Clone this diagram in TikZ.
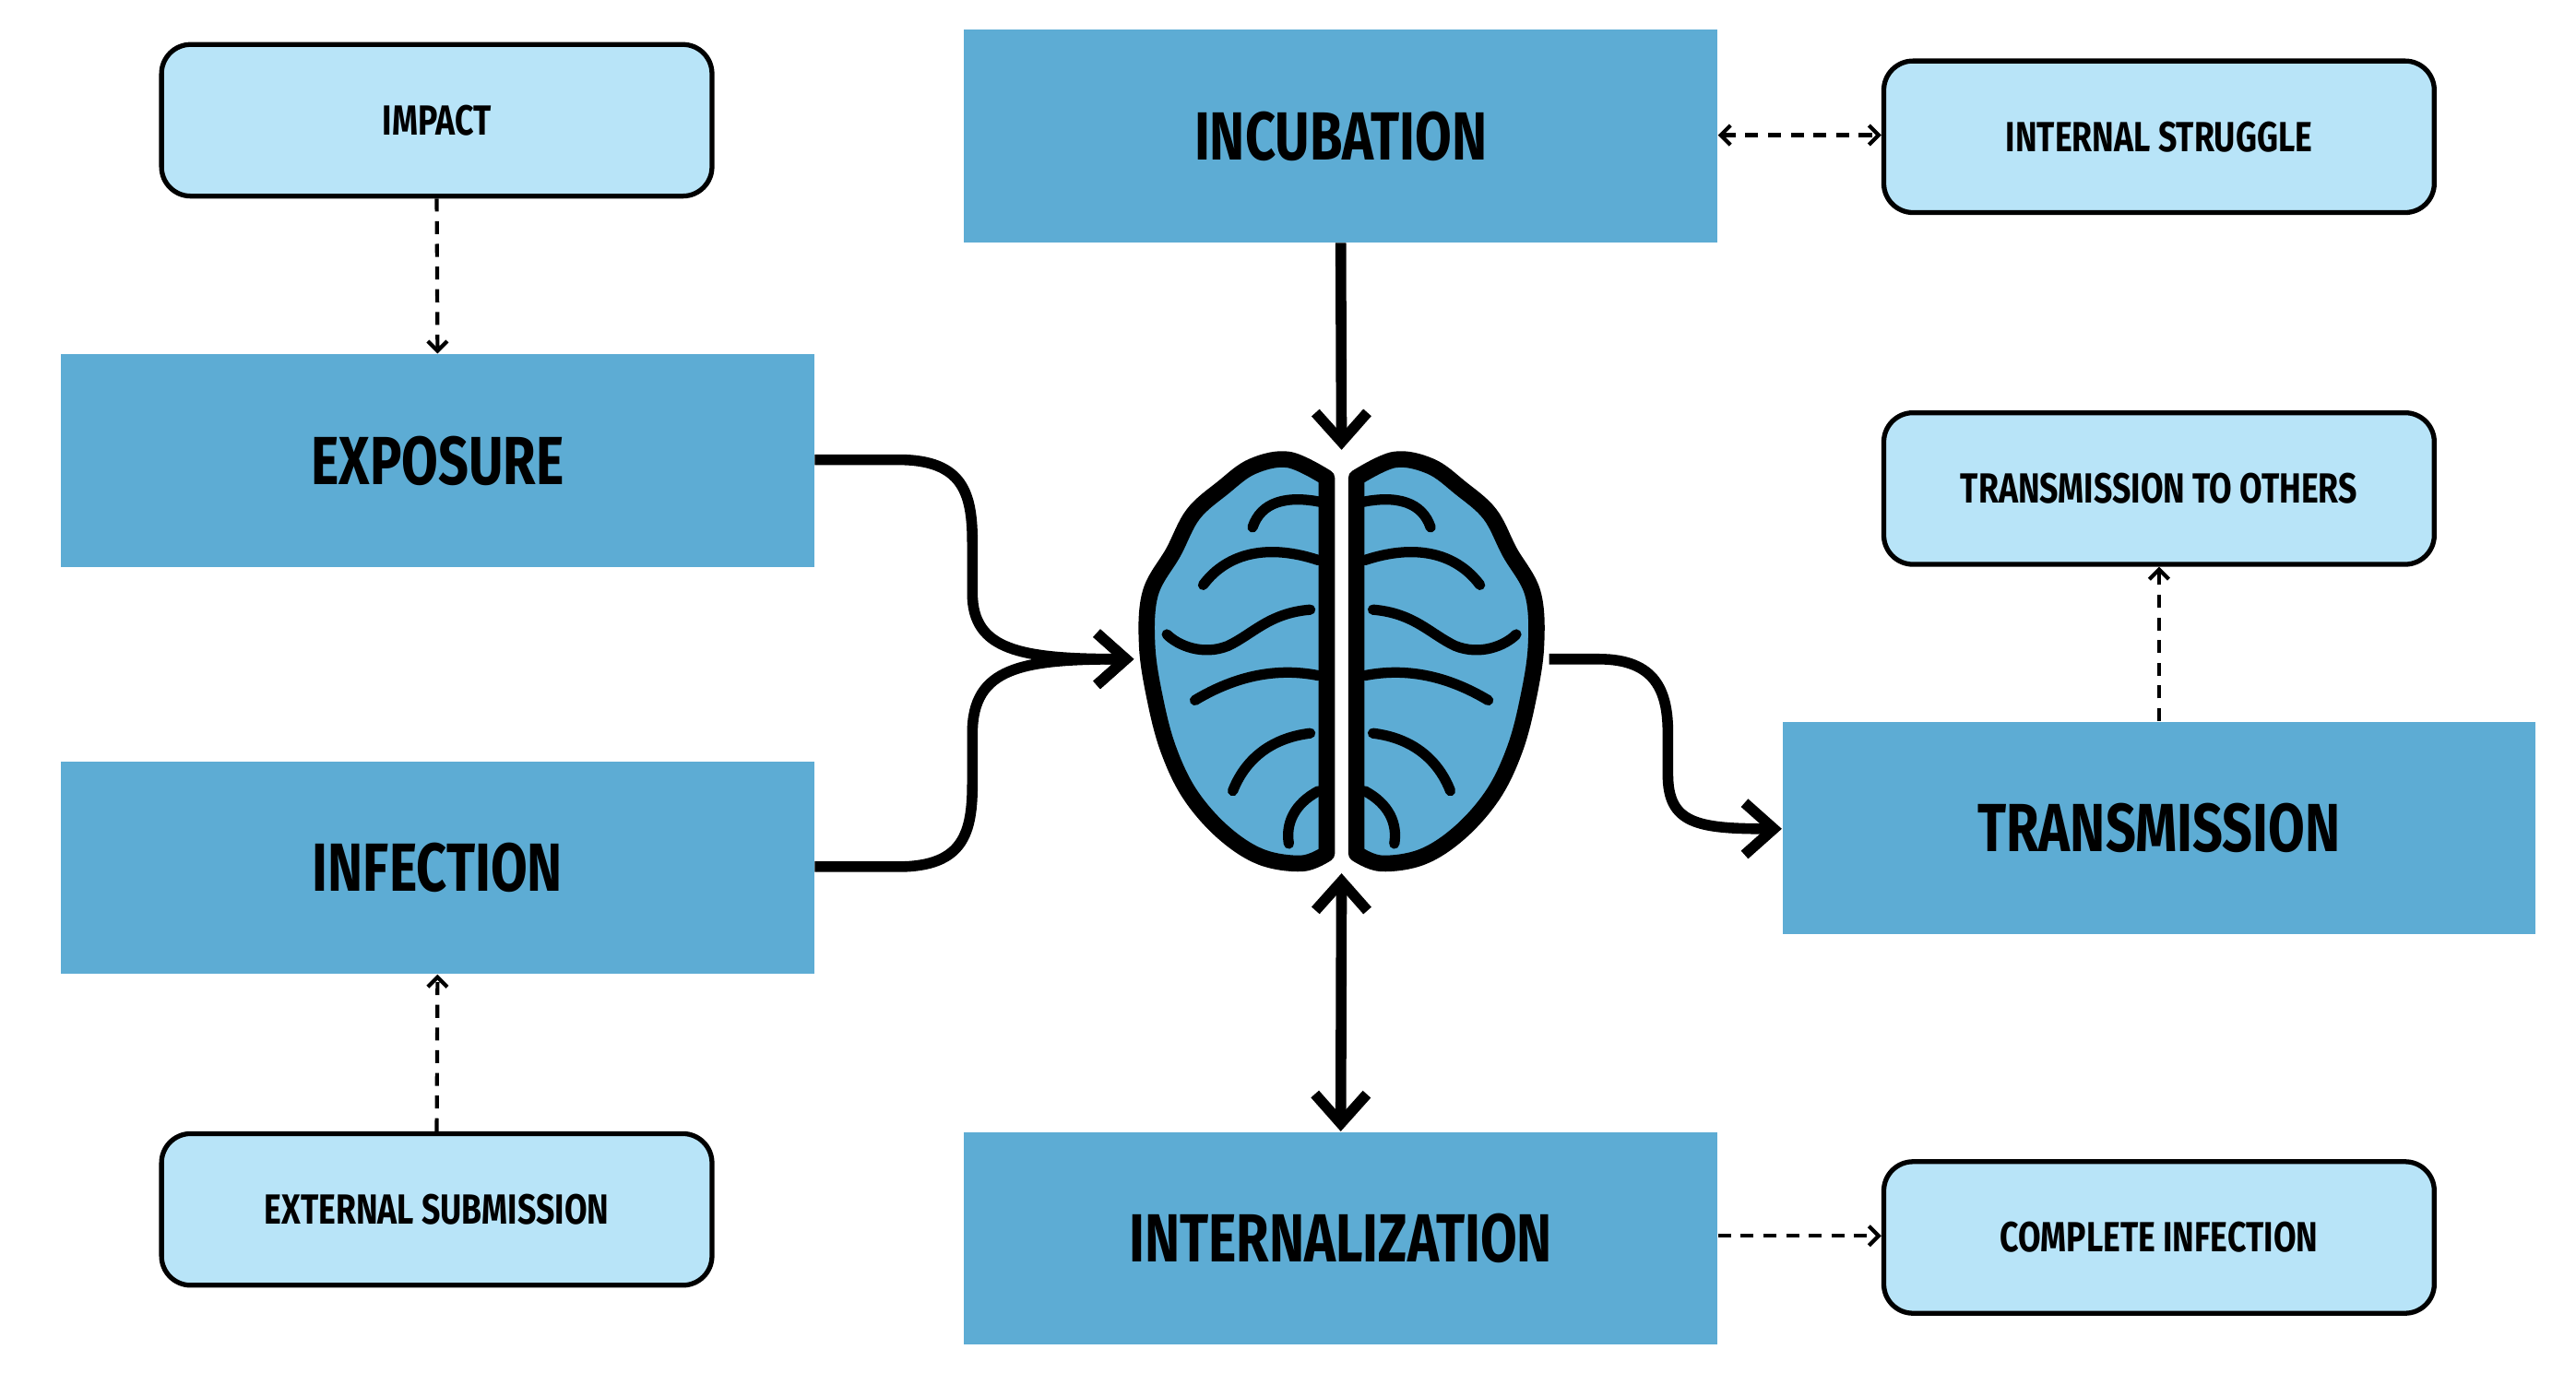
\documentclass[tikz,border=0pt]{standalone}
\usepackage{fontspec}
\setmainfont{Fira Sans}[FakeStretch=0.78]
\usetikzlibrary{arrows.meta}
\definecolor{dark}{HTML}{5DACD4}
\definecolor{light}{HTML}{B8E4F8}
\newcommand{\myhalf}{%
  \draw[line width=5pt,fill=dark,line join=round] plot[smooth,tension=0.6] coordinates {(805,290)(782,279)(760,283)(742,296)(724,312)(712,335)(698,360)(696,392)(701,425)(709,455)(722,482)(742,505)(765,520)(790,524)(805,518)} -- cycle;
  \begin{scope}[line width=3.2pt,line cap=round]
  \draw (803,305) .. controls (780,300) and (765,305) .. (760,320);
  \draw (800,340) .. controls (770,330) and (745,335) .. (730,355);
  \draw (795,370) .. controls (770,372) and (760,385) .. (745,392) .. controls (730,398) and (715,392) .. (708,385);
  \draw (800,410) .. controls (775,405) and (750,410) .. (725,425);
  \draw (795,445) .. controls (770,448) and (755,462) .. (748,480);
  \draw (800,480) .. controls (785,488) and (780,500) .. (782,512);
  \end{scope}}
\tikzset{
  x=0.01787cm,y=-0.01787cm,
  big/.style={fill=dark,draw=none,minimum width=457*0.01787cm,minimum height=129*0.01787cm,font=\fontsize{21}{24}\selectfont\bfseries,inner sep=0},
  small/.style={fill=light,draw=black,line width=1.5pt,rounded corners=9pt,minimum width=334*0.01787cm,minimum height=92*0.01787cm,font=\fontsize{13}{16}\selectfont\bfseries,inner sep=0},
  thick arrow/.style={line width=3.3pt,-{Straight Barb[length=9pt,width=16pt,line width=3.3pt]}},
  dash arrow/.style={line width=1.2pt,dashed,dash pattern=on 4pt off 3pt,-{Straight Barb[length=3pt,width=6pt]}}
}
\begin{document}
\begin{tikzpicture}
\useasboundingbox (0,0) rectangle (1563,833);
\node[small] (impact) at (265,73) {IMPACT};
\node[big] (incub) at (813.5,82.5) {INCUBATION};
\node[small] (struggle) at (1310,83) {INTERNAL STRUGGLE};
\node[big] (expo) at (265.5,279.5) {EXPOSURE};
\node[small] (others) at (1310,296.5) {TRANSMISSION TO OTHERS};
\node[big] (infec) at (265.5,526.5) {INFECTION};
\node[big] (trans) at (1310,502.5) {TRANSMISSION};
\node[small] (ext) at (265,734) {EXTERNAL SUBMISSION};
\node[big] (intern) at (813.5,751.5) {INTERNALIZATION};
\node[small] (complete) at (1310,751) {COMPLETE INFECTION};
\myhalf
\begin{scope}[xshift=1628*0.01787cm,xscale=-1]\myhalf\end{scope}
\coordinate (bl) at (688,400);
\coordinate (bt) at (814,273);
\coordinate (bb) at (814,530);
\coordinate (br) at (940,400);
\draw[thick arrow] (expo.east|-0,279) -- (545,279) .. controls (585,279) and (590,300) .. (590,330) -- (590,360) .. controls (590,395) and (620,400) .. (bl);
\draw[thick arrow] (infec.east|-0,526) -- (545,526) .. controls (585,526) and (590,505) .. (590,475) -- (590,445) .. controls (590,405) and (620,400) .. (bl);
\draw[thick arrow] (incub.south) -- (bt);
\draw[thick arrow,{Straight Barb[length=9pt,width=16pt,line width=3.3pt]}-{Straight Barb[length=9pt,width=16pt,line width=3.3pt]}] (bb) -- (intern.north);
\draw[thick arrow] (br) -- (970,400) .. controls (1005,400) and (1012,420) .. (1012,445) -- (1012,470) .. controls (1012,500) and (1030,503) .. (trans.west|-0,503);
\draw[dash arrow] (impact.south) -- (expo.north);
\draw[dash arrow] (ext.north) -- (infec.south);
\draw[dash arrow,{Straight Barb[length=3pt,width=6pt]}-{Straight Barb[length=3pt,width=6pt]}] (incub.east|-0,82) -- (struggle.west|-0,82);
\draw[dash arrow] (trans.north) -- (others.south);
\draw[dash arrow] (intern.east|-0,750) -- (complete.west|-0,750);
\end{tikzpicture}
\end{document}
